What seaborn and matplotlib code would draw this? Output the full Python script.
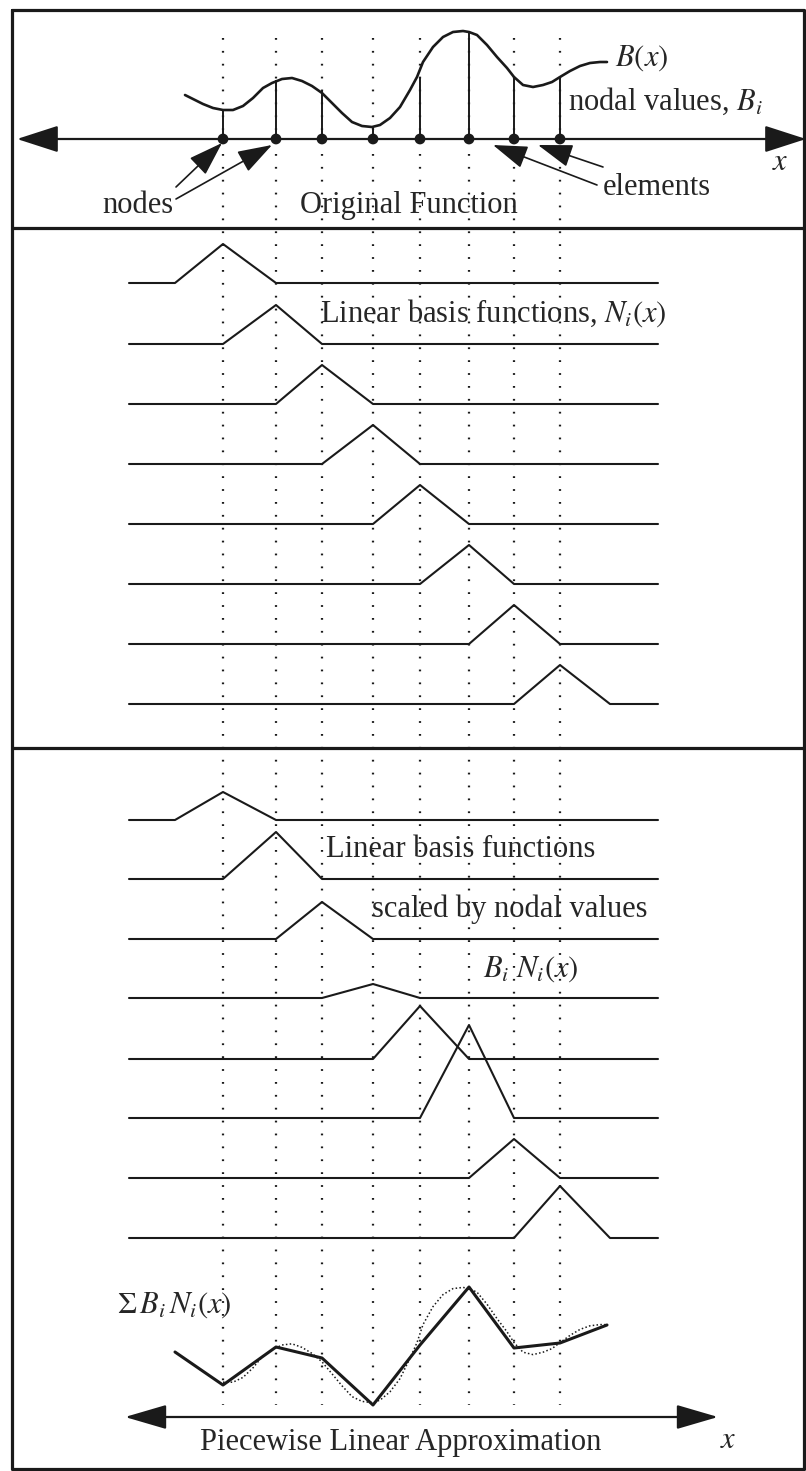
import numpy as np
import pandas as pd
import matplotlib
matplotlib.use("Agg")
import matplotlib.pyplot as plt
from matplotlib.patches import ArrowStyle
import seaborn as sns

# node positions along x (node 0 and node 9 only close the end elements)
node_x = [175, 223, 276, 322, 373, 420, 469, 514, 560, 610]
# nodal values B_i, height above the top axis
nodal_values = [29, 59, 49, 12, 62, 107, 62, 62]
# original function B(x)
curve_x = [185, 193, 203, 213, 223, 233, 243, 253, 263, 272, 282, 292, 302, 312,
           322, 332, 342, 352, 362, 372, 380, 390, 400, 410, 417, 423, 433, 443,
           453, 463, 469, 477, 487, 497, 507, 514, 523, 533, 543, 552, 560, 570,
           580, 590, 600, 607]
curve_h = [44, 40, 35, 31, 29, 29, 33, 41, 51, 56, 60, 61, 58, 53,
           46, 36, 26, 17, 13, 12, 14, 21, 32, 49, 62, 77, 92, 102,
           107, 108, 107, 104, 94, 82, 71, 62, 54, 52, 54, 57, 62, 68,
           73, 76, 77, 77]
# peaks of the scaled basis functions B_i N_i(x)
scaled_peaks = [28, 47, 37, 14, 53, 93, 39, 52]
# piecewise linear approximation, height above the bottom axis
sum_x = [175, 223, 276, 322, 373, 420, 469, 514, 560, 607]
sum_h = [65, 32, 70, 59, 12, 72, 130, 69, 74, 92]

sns.set_theme(style="white")
plt.rcParams["font.family"] = ["Liberation Serif", "DejaVu Serif"]
plt.rcParams["mathtext.fontset"] = "stix"
plt.rcParams["lines.solid_joinstyle"] = "round"

fig = plt.figure(figsize=(8.06, 14.71), dpi=100)
ax = fig.add_axes([0, 0, 1, 1])
ax.set_xlim(0, 806)
ax.set_ylim(1471, 0)
ax.axis("off")

top_axis = 139
bot_axis = 1417
base2 = [283, 344, 404, 464, 524, 584, 644, 704]
base3 = [820, 879, 939, 998, 1059, 1118, 1178, 1238]
basis_h = 39
row_l, row_r = 129, 658

# frame and dividers
lw_frame = 2.3
ax.plot([12, 12, 804, 804, 12], [10, 1469, 1469, 10, 10], color="k", lw=lw_frame)
ax.hlines([228, 748], 12, 806, color="k", lw=lw_frame)

# dotted node lines through all panels
ax.vlines(node_x[1:9], 38, 1405, color="k", lw=1.6, linestyles=[(0, (0.8, 5))])

# ---- original function
ax.vlines(node_x[1:9], [top_axis - v for v in nodal_values], top_axis, color="k", lw=1.4)
sns.lineplot(x=curve_x, y=[top_axis - h for h in curve_h], sort=False,
             color="k", lw=1.9, ax=ax)
sns.scatterplot(x=node_x[1:9], y=[top_axis] * 8, s=60, color="k",
                edgecolor="none", ax=ax, zorder=5)

def arrow(tip, tail, style, scale, lw=1.6):
    ax.annotate("", xy=tip, xytext=tail,
                arrowprops=dict(arrowstyle=style, mutation_scale=scale,
                                color="k", lw=lw, shrinkA=0, shrinkB=0))

axis_style = ArrowStyle("<|-|>", head_length=1.3, head_width=0.42)
arrow((17, top_axis), (806, top_axis), axis_style, 20)
ptr = ArrowStyle("-|>", head_length=1.2, head_width=0.4)
arrow((222, 143), (176, 187), ptr, 18, 1.2)
arrow((272, 145), (176, 199), ptr, 18, 1.2)
arrow((493, 145), (597, 185), ptr, 18, 1.2)
arrow((538, 145), (603, 167), ptr, 18, 1.2)

fs = 22
ax.text(615, 66, "$B(x)$", fontsize=fs, va="baseline")
ax.text(568, 110, "nodal values, $B_i$", fontsize=fs, va="baseline")
ax.text(772, 170, "$x$", fontsize=fs, va="baseline")
ax.text(603, 195, "elements", fontsize=fs, va="baseline")
ax.text(102, 213, "nodes", fontsize=fs, va="baseline")
ax.text(300, 213, "Original Function", fontsize=fs, va="baseline")

# ---- basis functions, plain and scaled
recs = []
for i in range(8):
    xs = [row_l, node_x[i], node_x[i + 1], node_x[i + 2], row_r]
    ns = [0, 0, 1, 0, 0]
    for x, n in zip(xs, ns):
        recs.append({"x": x, "y": base2[i] - basis_h * n, "row": i})
        recs.append({"x": x, "y": base3[i] - scaled_peaks[i] * n, "row": 10 + i})
rows = pd.DataFrame(recs)
sns.lineplot(data=rows, x="x", y="y", units="row", estimator=None, sort=False,
             color="k", lw=1.5, ax=ax)

ax.text(320, 322, "Linear basis functions, $N_i(x)$", fontsize=fs, va="baseline")
ax.text(326, 857, "Linear basis functions", fontsize=fs, va="baseline")
ax.text(372, 917, "scaled by nodal values", fontsize=fs, va="baseline")
ax.text(483, 977, r"$B_i\ N_i(x)$", fontsize=fs, va="baseline")

# ---- piecewise linear approximation, original function dotted behind it
dot = [(x, h) for x, h in zip(curve_x, curve_h) if x >= 223]
sns.lineplot(x=[d[0] for d in dot], y=[bot_axis - 1.2 * d[1] for d in dot],
             sort=False, color="k", lw=1.1, linestyle=(0, (1, 1.5)), ax=ax)
sns.lineplot(x=sum_x, y=[bot_axis - h for h in sum_h], sort=False,
             color="k", lw=2.2, ax=ax)
arrow((125, bot_axis), (718, bot_axis),
      ArrowStyle("<|-|>", head_length=1.3, head_width=0.38), 20)

ax.text(117, 1313, r"$\Sigma\, B_i\, N_i(x)$", fontsize=fs, va="baseline")
ax.text(200, 1450, "Piecewise Linear Approximation", fontsize=fs, va="baseline")
ax.text(720, 1448, "$x$", fontsize=fs, va="baseline")

fig.savefig("out.png", dpi=100)
